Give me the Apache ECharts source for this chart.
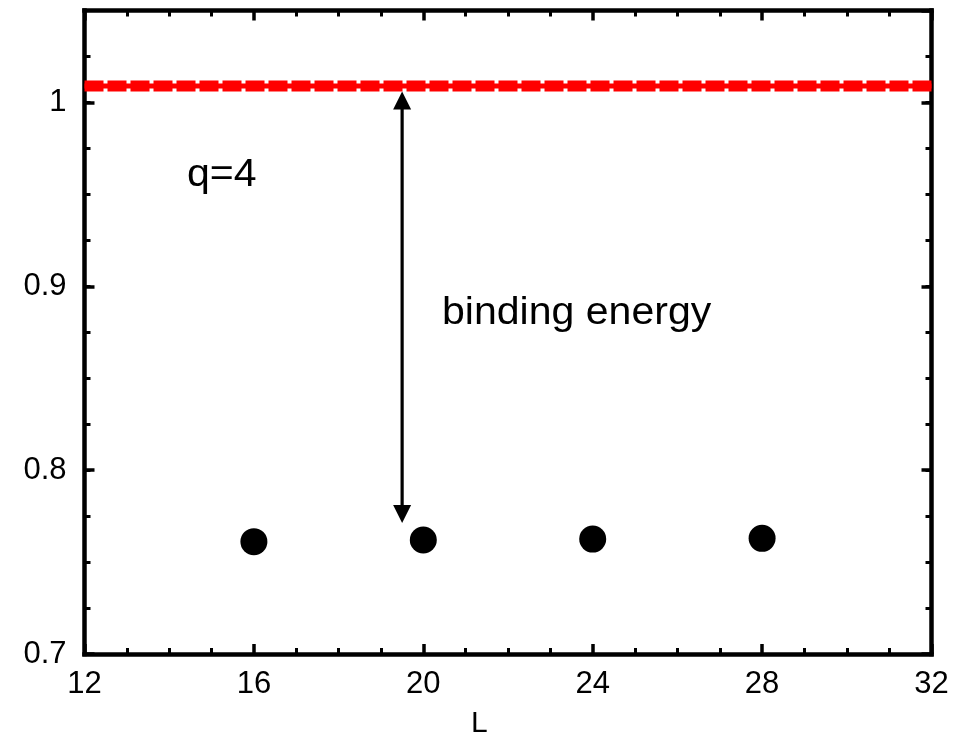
<!DOCTYPE html>
<html>
<head>
<meta charset="utf-8">
<script src="https://cdn.jsdelivr.net/npm/echarts@6/dist/echarts.min.js"></script>
<style>
html,body{margin:0;padding:0;background:#fff;}
#chart{width:963px;height:739px;}
</style>
</head>
<body>
<div id="chart"></div>
<script>
// ---- data ----
const latticeSizes = [16, 20, 24, 28];
const boundEnergies = [0.7611, 0.7620, 0.7625, 0.7629];
const thresholdX = [12, 32];
const thresholdY = [1.009, 1.009];
const arrowSpan = [[19.5, 1.006, 0.7713]];
const xRange = [12, 32];
const yRange = [0.7, 1.05];
const xLabel = 'L';
const annotation1 = 'q=4';
const annotation2 = 'binding energy';

const FONT = '"Liberation Sans", Arial, Helvetica, sans-serif';
const chart = echarts.init(document.getElementById('chart'), null, {renderer: 'canvas'});

const lineStyleAxis = {color: '#000', width: 4.5, cap: 'square'};
function mainX(pos, labels) {
  return {
    type: 'value', position: pos, min: xRange[0], max: xRange[1], interval: 4,
    axisLine: {show: true, onZero: false, lineStyle: lineStyleAxis},
    axisTick: {show: true, inside: true, length: 10, lineStyle: {color: '#000', width: 3.5}},
    minorTick: {show: true, splitNumber: 4, length: 6, lineStyle: {color: '#000', width: 3}},
    axisLabel: {show: labels, margin: 15, fontFamily: FONT, fontSize: 31, color: '#000'},
    splitLine: {show: false}
  };
}
function mainY(pos, labels) {
  return {
    type: 'value', position: pos, min: yRange[0], max: yRange[1], interval: 0.1,
    axisLine: {show: true, onZero: false, lineStyle: lineStyleAxis},
    axisTick: {show: true, inside: true, length: 10, lineStyle: {color: '#000', width: 3.5}},
    axisLabel: {show: labels, margin: 18, fontFamily: FONT, fontSize: 31, color: '#000',
      formatter: v => (Math.round(v * 10) / 10).toString(),
      showMaxLabel: false},
    splitLine: {show: false}
  };
}
function minorY(pos) {
  return {
    type: 'value', position: pos, min: yRange[0], max: yRange[1], interval: 0.025,
    axisLine: {show: false},
    axisTick: {show: true, inside: true, length: 6, lineStyle: {color: '#000', width: 3}},
    axisLabel: {show: false},
    splitLine: {show: false}
  };
}

const option = {
  backgroundColor: '#fff',
  animation: false,
  grid: {left: 84.5, right: 31.5, top: 10.5, bottom: 85, containLabel: false, outerBoundsMode: 'none'},
  xAxis: [mainX('bottom', true), mainX('top', false)],
  yAxis: [mainY('left', true), mainY('right', false), minorY('left'), minorY('right')],
  series: [
    {
      type: 'line', data: thresholdX.map((x, i) => [x, thresholdY[i]]),
      symbol: 'none', lineStyle: {color: '#ff0000', width: 5}, z: 2
    },
    {
      type: 'line', data: thresholdX.map((x, i) => [x, thresholdY[i]]),
      symbol: 'none', lineStyle: {color: '#ff0000', width: 11, type: [19, 4], dashOffset: 0}, z: 2
    },
    {
      type: 'custom', data: arrowSpan, encode: {x: 0, y: [1, 2]}, z: 3,
      renderItem: function (params, api) {
        const top = api.coord([api.value(0), api.value(1)]);
        const bot = api.coord([api.value(0), api.value(2)]);
        const hl = 18, hw = 9;
        return {
          type: 'group',
          children: [
            {type: 'line', shape: {x1: top[0], y1: top[1] + hl - 2, x2: bot[0], y2: bot[1] - hl + 2},
             style: {stroke: '#000', lineWidth: 3.2}},
            {type: 'polygon', shape: {points: [[top[0], top[1]], [top[0] - hw, top[1] + hl], [top[0] + hw, top[1] + hl]]},
             style: {fill: '#000'}},
            {type: 'polygon', shape: {points: [[bot[0], bot[1]], [bot[0] - hw, bot[1] - hl], [bot[0] + hw, bot[1] - hl]]},
             style: {fill: '#000'}}
          ]
        };
      }
    },
    {
      type: 'scatter', data: latticeSizes.map((x, i) => [x, boundEnergies[i]]),
      symbol: 'circle', symbolSize: 27, itemStyle: {color: '#000', opacity: 1}, z: 4
    }
  ],
  graphic: [
    {type: 'text', left: 187, top: 157, scaleX: 1.08,
     style: {text: annotation1, font: '38px ' + FONT, fill: '#000'}},
    {type: 'text', left: 442, top: 295, scaleX: 1.08,
     style: {text: annotation2, font: '38px ' + FONT, fill: '#000'}},
    {type: 'text', left: 471, top: 709,
     style: {text: xLabel, font: '30px ' + FONT, fill: '#000'}}
  ]
};
chart.setOption(option);
</script>
</body>
</html>
